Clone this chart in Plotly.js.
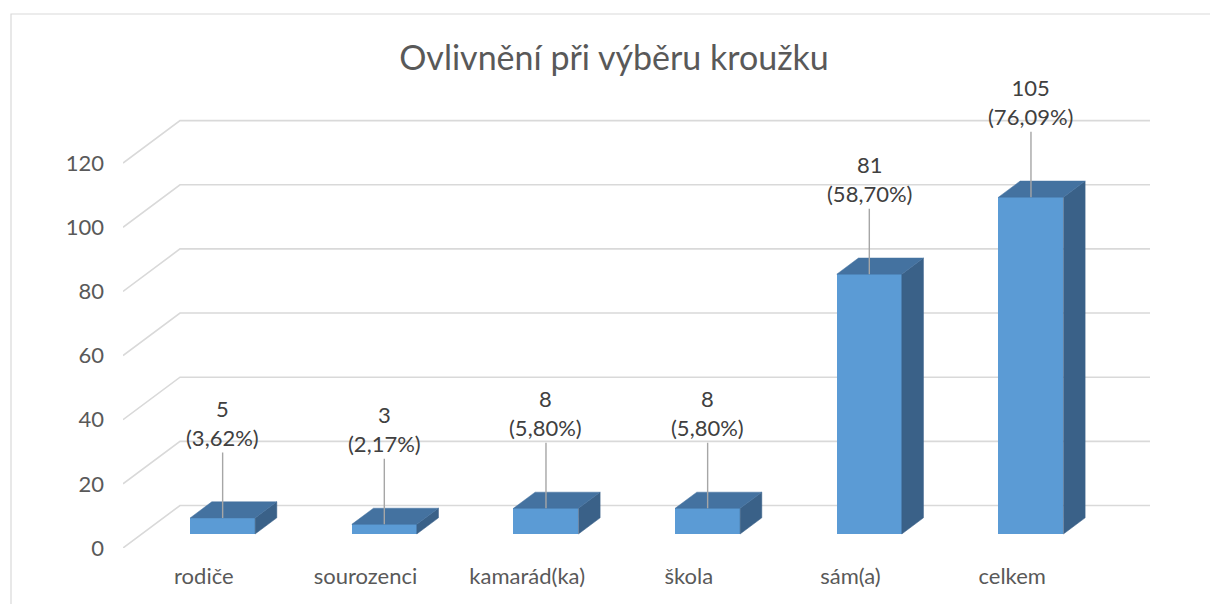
<!DOCTYPE html>
<html>
<head>
<meta charset="utf-8">
<script src="https://cdn.plot.ly/plotly-3.0.1.min.js"></script>
<style>
  html, body { margin: 0; padding: 0; background: #ffffff; }
  #chart { width: 1210px; height: 604px; }
</style>
</head>
<body>
<div id="chart"></div>
<script>
// ---- data ----
const categories = ['rodiče', 'sourozenci', 'kamarád(ka)', 'škola', 'sám(a)', 'celkem'];
const counts = [5, 3, 8, 8, 81, 105];
const percents = [3.62, 2.17, 5.80, 5.80, 58.70, 76.09];
const yTicks = [0, 20, 40, 60, 80, 100, 120];
const chartTitle = 'Ovlivnění při výběru kroužku';

// ---- 3D look (style) ----
const DEPTH_X = 0.3526;   // floor depth in x units
const DEPTH_Y = 13.25;    // floor depth in y units
const FRONT = 0.33;       // bar front plane, fraction of depth
const BAR_D = 0.38;       // bar depth, fraction of depth
const BAR_W = 0.402;      // bar width in category units
const FONT = 'Lato, "Open Sans", sans-serif';
const COL_FRONT = '#5b9bd5', COL_TOP = '#4472a0', COL_SIDE = '#3a6188';

const n = categories.length;
const xMax = n + DEPTH_X;
const yMax = 135;
const centers = categories.map((c, i) => i + 0.5);
const fx = FRONT * DEPTH_X, fy = FRONT * DEPTH_Y;
const bdx = BAR_D * DEPTH_X, bdy = BAR_D * DEPTH_Y;

const traces = [];
// front faces
traces.push({
  type: 'bar',
  x: centers.map(c => c + fx),
  y: counts,
  base: counts.map(() => fy),
  width: BAR_W,
  marker: { color: COL_FRONT, line: { width: 0 } },
  hoverinfo: 'skip',
  showlegend: false
});
// side and top faces
counts.forEach((v, i) => {
  const xl = centers[i] + fx - BAR_W / 2;
  const xr = centers[i] + fx + BAR_W / 2;
  const b = fy, t = fy + v;
  traces.push({
    type: 'scatter', mode: 'lines', fill: 'toself', fillcolor: COL_SIDE,
    line: { width: 0.5, color: COL_SIDE },
    x: [xr, xr + bdx, xr + bdx, xr, xr],
    y: [b, b + bdy, t + bdy, t, b],
    hoverinfo: 'skip', showlegend: false
  });
  traces.push({
    type: 'scatter', mode: 'lines', fill: 'toself', fillcolor: COL_TOP,
    line: { width: 0.5, color: COL_TOP },
    x: [xl, xr, xr + bdx, xl + bdx, xl],
    y: [t, t, t + bdy, t + bdy, t],
    hoverinfo: 'skip', showlegend: false
  });
});

// gridlines (side wall diagonal + back wall)
const shapes = yTicks.map(v => ({
  type: 'path', xref: 'x', yref: 'y', layer: 'below',
  path: `M 0,${v} L ${DEPTH_X},${v + DEPTH_Y} L ${xMax},${v + DEPTH_Y}`,
  line: { color: '#d9d9d9', width: 1.6 }
}));
// chart area border
shapes.push({
  type: 'rect', xref: 'paper', yref: 'paper',
  x0: (11 - 123) / 1027, x1: 1.2, y0: -0.3, y1: (548 - 14) / 433,
  line: { color: '#d9d9d9', width: 1.2 }, fillcolor: 'rgba(0,0,0,0)', layer: 'below'
});

const fmt = p => p.toFixed(2).replace('.', ',');
const annotations = counts.map((v, i) => ({
  x: centers[i] + fx, y: fy + v, xref: 'x', yref: 'y',
  text: `${v}<br>(${fmt(percents[i])}%)`,
  showarrow: true, arrowhead: 0, arrowwidth: 1.4, arrowcolor: '#a6a6a6',
  ax: 0, ay: -95,
  font: { family: FONT, size: 22, color: '#404040' }
}));

const layout = {
  width: 1210, height: 604,
  margin: { l: 123, r: 60, t: 115, b: 56 },
  paper_bgcolor: '#ffffff', plot_bgcolor: 'rgba(0,0,0,0)',
  title: {
    text: chartTitle, x: 614 / 1210, xref: 'container', xanchor: 'center',
    y: 1 - 58 / 604, yref: 'container', yanchor: 'middle',
    font: { family: FONT, size: 34, color: '#595959' }
  },
  xaxis: {
    range: [0, xMax], tickvals: centers, ticktext: categories,
    showgrid: false, zeroline: false, showline: false, ticks: '',
    ticklabelstandoff: 13,
    tickfont: { family: FONT, size: 22, color: '#595959' },
    fixedrange: true
  },
  yaxis: {
    range: [0, yMax], tickvals: yTicks, ticktext: yTicks.map(String),
    showgrid: false, zeroline: false, showline: false, ticks: '',
    ticklabelstandoff: 18,
    tickfont: { family: FONT, size: 22, color: '#595959' },
    fixedrange: true
  },
  shapes: shapes,
  annotations: annotations,
  showlegend: false,
  bargap: 0
};

Plotly.newPlot('chart', traces, layout, { displayModeBar: false, staticPlot: true });
</script>
</body>
</html>
